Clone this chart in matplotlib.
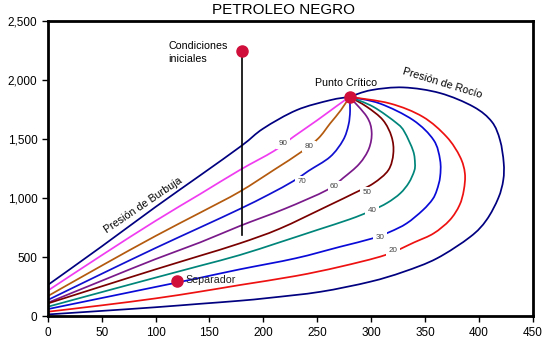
import matplotlib
matplotlib.use("Agg")
import matplotlib.pyplot as plt
import numpy as np
from matplotlib.path import Path
from matplotlib.patches import PathPatch
from matplotlib.ticker import FuncFormatter

plt.rcParams['font.family'] = ['Liberation Sans', 'DejaVu Sans']

# ---- data (temperature, pressure) ----
bubble_x = [0, 50, 100, 141, 180, 200, 231, 262, 280]
bubble_y = [263, 590, 925, 1190, 1445, 1590, 1746, 1830, 1858]

q90_x = [0, 50, 100, 141.5, 178, 210, 228, 250, 268, 280]
q90_y = [215, 515, 807, 1035, 1237, 1400, 1520, 1660, 1780, 1858]

q80_x = [0, 50, 100, 141.5, 178, 210, 235, 251, 262, 272, 280]
q80_y = [169, 427, 679, 877, 1054, 1240, 1390, 1506, 1633, 1746, 1858]

q70_x = [0, 50, 100, 141.5, 178, 205, 228, 242, 262, 274, 279, 280.5, 280]
q70_y = [136, 358, 577, 752, 907, 1030, 1145, 1231, 1350, 1491, 1620, 1740, 1858]

q60_x = [0, 50, 100, 141.5, 178, 220, 259, 274, 289, 298, 300.5, 296, 280]
q60_y = [113, 299, 483, 625, 763, 910, 1068, 1170, 1290, 1420, 1560, 1690, 1858]

q50_x = [0, 50, 100, 141.5, 178, 215, 259, 285, 302, 316, 320.6, 319, 311, 296, 280]
q50_y = [107, 252, 396, 512, 616, 740, 930, 1045, 1124, 1237, 1379, 1520, 1661, 1774, 1858]

q40_x = [0, 50, 100, 141.5, 178, 215, 250, 280, 300, 315, 327, 335, 340, 340.7, 339, 331, 324, 302, 280]
q40_y = [79, 203, 326, 427, 517, 625, 730, 820, 892, 960, 1040, 1130, 1230, 1294, 1400, 1560, 1633, 1774, 1858]

q30_x = [0, 50, 100, 141.5, 178, 230, 271, 301, 317.5, 333, 348, 357, 361, 364, 364, 358, 339, 308, 280]
q30_y = [59, 153, 247, 325, 396, 490, 587, 658, 714, 786, 898, 990, 1068, 1180, 1322, 1492, 1661, 1802, 1858]

q20_x = [0, 50, 100, 141, 178, 230, 271, 313, 340, 358, 373, 382, 386, 387, 382.5, 370, 348, 317.5, 280]
q20_y = [37, 91, 150, 207, 263, 340, 418, 517, 625, 701, 814, 940, 1068, 1209, 1350, 1520, 1689, 1802, 1858]

dew_x = [0, 50, 100, 141, 178, 206, 253, 299, 330, 361, 392, 407, 418, 422.6, 423, 419.6, 412, 395, 364, 330, 300, 280]
dew_y = [14, 44, 75, 104, 130, 155, 206, 291, 375, 489, 672, 814, 1000, 1153, 1300, 1491, 1647, 1774, 1890, 1938, 1915, 1858]

quality_labels = ['90', '80', '70', '60', '50', '40', '30', '20']
label_x = [218, 242.7, 235.6, 266, 296, 300.6, 308, 320.6]
label_y = [1463, 1438, 1140, 1096, 1048, 892, 664, 553]

critical_point = (280, 1858)
initial_point = (180, 2250)
separator_point = (120, 300)
path_bottom = 690

x_ticks = [0, 50, 100, 150, 200, 250, 300, 350, 400, 450]
y_ticks = [0, 500, 1000, 1500, 2000, 2500]


def smooth_path(xs, ys):
    """Excel-style smoothed line: Bezier segments through the given points."""
    P = np.column_stack([xs, ys]).astype(float)
    n = len(P)
    verts = [P[0]]
    codes = [Path.MOVETO]
    for i in range(n - 1):
        p0 = P[i - 1] if i > 0 else P[i]
        p3 = P[i + 2] if i + 2 < n else P[i + 1]
        c1 = P[i] + (P[i + 1] - p0) / 6.0
        c2 = P[i + 1] - (p3 - P[i]) / 6.0
        verts += [c1, c2, P[i + 1]]
        codes += [Path.CURVE4] * 3
    return Path(verts, codes)


# ---- figure ----
fig = plt.figure(figsize=(5.55, 3.52), dpi=100)
ax = fig.add_axes([0.086, 0.102, 0.874, 0.838])

navy = '#000080'
curves = [
    (bubble_x, bubble_y, navy),
    (q90_x, q90_y, '#f03cf0'),
    (q80_x, q80_y, '#b35a0e'),
    (q70_x, q70_y, '#1010d0'),
    (q60_x, q60_y, '#7a1a8a'),
    (q50_x, q50_y, '#7a0000'),
    (q40_x, q40_y, '#00857a'),
    (q30_x, q30_y, '#0a0ad8'),
    (q20_x, q20_y, '#ee1111'),
    (dew_x, dew_y, navy),
]
for xs, ys, c in curves:
    patch = PathPatch(smooth_path(xs, ys), fill=False, edgecolor=c, lw=1.25,
                      capstyle='round', joinstyle='round', zorder=2)
    ax.add_patch(patch)

for lab, lx, ly in zip(quality_labels, label_x, label_y):
    ax.text(lx, ly, lab, fontsize=5.8, color='#444444', ha='center', va='center', zorder=4,
            bbox=dict(boxstyle='square,pad=0.3', fc='white', ec='none'))

# vertical path
ax.plot([initial_point[0], initial_point[0]], [path_bottom, initial_point[1]], color='black', lw=1.2, zorder=3)

for pt in (critical_point, initial_point, separator_point):
    ax.plot(pt[0], pt[1], 'o', color='#d0103a', ms=8, zorder=5)

fs = 7.7
ax.text(112, 2235, 'Condiciones\niniciales', fontsize=fs, ha='left', va='center', linespacing=1.45)
ax.text(277, 1978, 'Punto Crítico', fontsize=fs, ha='center', va='center')
ax.text(128, 303, 'Separador', fontsize=fs, ha='left', va='center', color='#222222')
ax.text(366, 1975, 'Presión de Rocío', fontsize=fs, ha='center', va='center', rotation=-17,
        rotation_mode='anchor')
ax.text(89, 940, 'Presión de Burbuja', fontsize=fs, ha='center', va='center', rotation=34,
        rotation_mode='anchor')

ax.set_xlim(0, 450)
ax.set_ylim(0, 2500)
ax.set_xticks(x_ticks)
ax.set_yticks(y_ticks)
ax.yaxis.set_major_formatter(FuncFormatter(lambda v, p: f'{int(v):,}'))
ax.tick_params(axis='both', labelsize=8.5, direction='out', length=4, width=1, colors='black')
for s in ax.spines.values():
    s.set_linewidth(2)

fig.text(0.51, 0.972, 'PETROLEO NEGRO', ha='center', va='center', fontsize=11)

fig.savefig('out.png', dpi=100)
